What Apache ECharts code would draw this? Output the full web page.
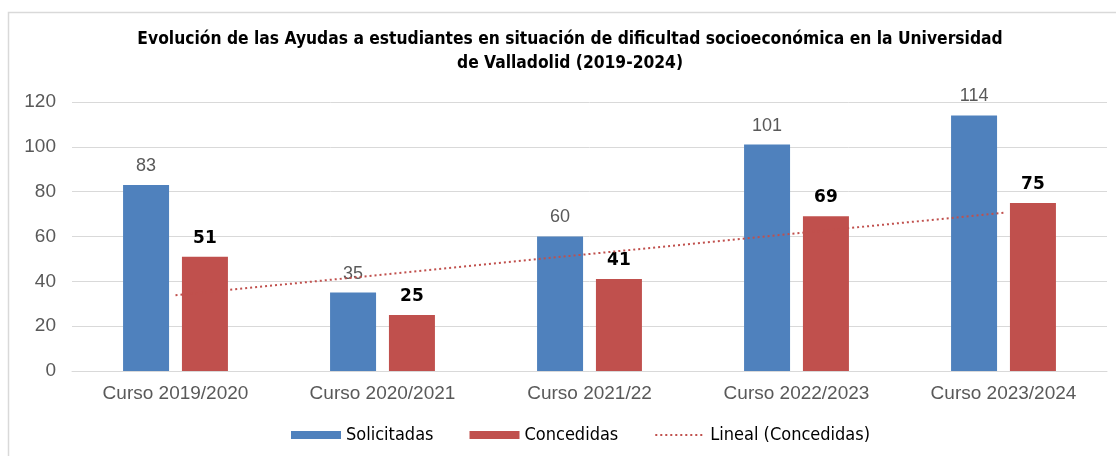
<!DOCTYPE html>
<html><head><meta charset="utf-8">
<script src="https://cdn.jsdelivr.net/npm/echarts@6/dist/echarts.min.js"></script>
<style>html,body{margin:0;padding:0;background:#fff}#c{width:1116px;height:456px}</style>
</head><body><div id="c"></div>
<script>
const categories = ['Curso 2019/2020','Curso 2020/2021','Curso 2021/22','Curso 2022/2023','Curso 2023/2024'];
const solicitadas = [83, 35, 60, 101, 114];
const concedidas = [51, 25, 41, 69, 75];
const linealConcedidas = [33.8, 43.0, 52.2, 61.4, 70.6];
const yTicks = {min: 0, max: 120, interval: 20};
const titleText = 'Evolución de las Ayudas a estudiantes en situación de dificultad socioeconómica en la Universidad\nde Valladolid (2019-2024)';

const chart = echarts.init(document.getElementById('c'), null, {renderer: 'canvas'});
const narrow = "'Liberation Sans Narrow','DejaVu Sans Condensed','Arial Narrow',sans-serif";
const arial = "'Liberation Sans',Arial,sans-serif";
chart.setOption({
  animation: false,
  graphic: [{type: 'rect', shape: {x: 8.5, y: 12.5, width: 1200, height: 600}, style: {fill: 'none', stroke: '#d9d9d9', lineWidth: 1.5}, silent: true, z: -1}],
  title: {
    text: titleText, left: 565, textAlign: 'center', top: 23,
    textStyle: {fontFamily: narrow, fontWeight: 'bold', fontSize: 17.3, color: '#000', lineHeight: 24}
  },
  grid: {left: 72, right: 9, top: 102, bottom: 85, containLabel: false},
  legend: {
    top: 421, left: 286, itemWidth: 50, itemHeight: 8, itemGap: 36,
    textStyle: {fontFamily: narrow, fontSize: 18, color: '#000'},
    data: [
      {name: 'Solicitadas', icon: 'rect'},
      {name: 'Concedidas', icon: 'rect'},
      {name: 'Lineal (Concedidas)', itemStyle: {color: 'rgba(0,0,0,0)', borderWidth: 0}}
    ]
  },
  xAxis: {
    type: 'category', data: categories,
    axisLine: {show: true, lineStyle: {color: '#d9d9d9'}}, axisTick: {show: false},
    axisLabel: {fontFamily: arial, fontSize: 19, color: '#595959', margin: 13}
  },
  yAxis: {
    type: 'value', min: yTicks.min, max: yTicks.max, interval: yTicks.interval,
    axisLine: {show: false}, axisTick: {show: false},
    splitLine: {lineStyle: {color: '#d9d9d9', width: 1}},
    axisLabel: {fontFamily: arial, fontSize: 19, color: '#595959', margin: 16}
  },
  series: [
    {name: 'Solicitadas', type: 'bar', data: solicitadas, barWidth: 46, barGap: '28%',
     itemStyle: {color: '#4f81bd'},
     label: {show: true, position: 'top', distance: 10, fontFamily: arial, fontSize: 18, color: '#595959'}},
    {name: 'Concedidas', type: 'bar', data: concedidas, barWidth: 46,
     itemStyle: {color: '#c0504d'},
     label: {show: true, position: 'top', distance: 10, fontFamily: "'DejaVu Sans',Verdana,sans-serif", fontWeight: 'bold', fontSize: 17, color: '#000'}},
    {name: 'Lineal (Concedidas)', type: 'line', data: linealConcedidas, symbol: 'none', z: 5,
     lineStyle: {color: '#c0504d', width: 2, type: [2, 3]}, itemStyle: {color: '#c0504d'}}
  ]
});
</script></body></html>
